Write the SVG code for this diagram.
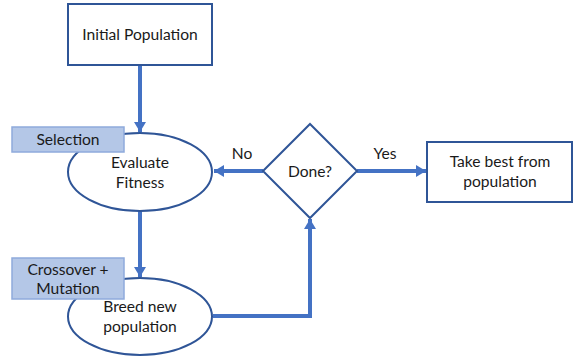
<svg xmlns="http://www.w3.org/2000/svg" width="575" height="358" viewBox="0 0 575 358">
<style>
.shape{fill:#fff;stroke:#2f5597;stroke-width:2}
.tag{fill:#b4c7e7;stroke:#8faadc;stroke-width:1.5}
.conn{fill:none;stroke:#4472c4;stroke-width:4}
text{font-family:Lato,"Liberation Sans",sans-serif;font-size:15.6px;fill:#1a1a1a;text-anchor:middle}
</style>
<defs>
<marker id="ah" markerUnits="userSpaceOnUse" markerWidth="12" markerHeight="12" refX="10" refY="6" orient="auto">
<path d="M0,0 L10,6 L0,12 Z" fill="#4472c4"/>
</marker>
</defs>
<rect width="575" height="358" fill="#fff"/>
<g id="connectors">
<line class="conn" x1="140" y1="65" x2="140" y2="132" marker-end="url(#ah)"/>
<line class="conn" x1="263" y1="171" x2="214" y2="171" marker-end="url(#ah)"/>
<line class="conn" x1="357" y1="171" x2="426" y2="171" marker-end="url(#ah)"/>
<line class="conn" x1="140" y1="211" x2="140" y2="277" marker-end="url(#ah)"/>
<polyline class="conn" points="213,316 310,316 310,219" marker-end="url(#ah)"/>
<text x="242" y="159">No</text>
<text x="385" y="159">Yes</text>
</g>
<g id="initial">
<rect class="shape" x="68" y="4" width="144" height="61"/>
<text x="140" y="40">Initial Population</text>
</g>
<g id="evaluate">
<ellipse class="shape" cx="140" cy="172" rx="72" ry="39"/>
<text x="140" y="168">Evaluate</text>
<text x="140" y="188">Fitness</text>
</g>
<g id="selection">
<rect class="tag" x="12" y="127" width="112" height="25"/>
<text x="68" y="145">Selection</text>
</g>
<g id="done">
<polygon class="shape" points="263,171 310,124 357,171 310,218"/>
<text x="310" y="177">Done?</text>
</g>
<g id="best">
<rect class="shape" x="427" y="142" width="145" height="60"/>
<text x="500" y="167">Take best from</text>
<text x="500" y="187">population</text>
</g>
<g id="breed">
<ellipse class="shape" cx="140" cy="316.5" rx="72" ry="38.5"/>
<text x="140" y="312">Breed new</text>
<text x="140" y="332">population</text>
</g>
<g id="crossover">
<rect class="tag" x="12" y="258" width="112" height="41"/>
<text x="68" y="275">Crossover +</text>
<text x="68" y="294">Mutation</text>
</g>
</svg>
